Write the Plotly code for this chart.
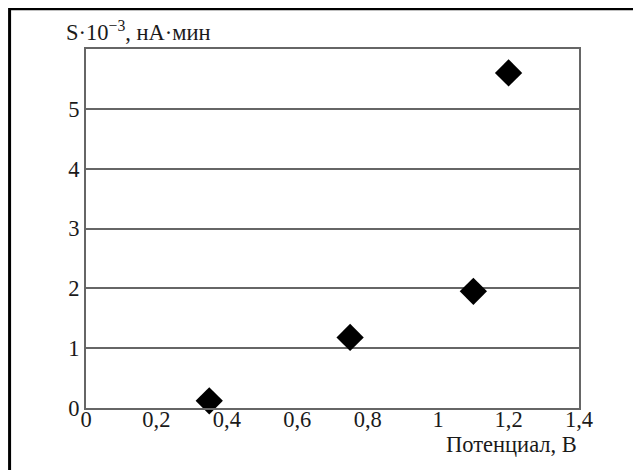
import plotly.graph_objects as go

potential = [0.35, 0.75, 1.1, 1.2]
area = [0.12, 1.18, 1.95, 5.6]
x_ticks = [0, 0.2, 0.4, 0.6, 0.8, 1.0, 1.2, 1.4]
y_ticks = [0, 1, 2, 3, 4, 5]

FONT = "'Liberation Serif', 'DejaVu Serif', serif"
FS = 22.5

fig = go.Figure()
fig.add_trace(go.Scatter(
    x=potential, y=area, mode="markers",
    marker=dict(symbol="diamond", size=21, color="black"),
    cliponaxis=False, showlegend=False,
))

fig.update_layout(
    width=633, height=462,
    margin=dict(l=78, r=62, t=41, b=62),
    paper_bgcolor="white", plot_bgcolor="white",
    separators=", ",
    font=dict(family=FONT, size=FS, color="#1a1a1a"),
    xaxis=dict(
        range=[0, 1.4], tickvals=x_ticks, showgrid=False, zeroline=False,
        showline=True, linecolor="#666", linewidth=2, mirror=True,
        ticks="", ticklabelstandoff=-10,
        tickfont=dict(family=FONT, size=FS, color="#1a1a1a"),
    ),
    yaxis=dict(
        range=[0, 6], tickvals=y_ticks, showgrid=True, gridcolor="#666",
        gridwidth=1.8, zeroline=False,
        showline=True, linecolor="#666", linewidth=2, mirror=True,
        ticks="", ticklabelstandoff=0,
        tickfont=dict(family=FONT, size=FS, color="#1a1a1a"),
    ),
    annotations=[
        dict(text="S·10<sup>−3</sup>, нА·мин", xref="paper", yref="paper",
             x=-0.045, y=1.006, xanchor="left", yanchor="bottom", showarrow=False,
             font=dict(family=FONT, size=FS, color="#1a1a1a")),
        dict(text="Потенциал, В", xref="paper", yref="paper",
             x=1.0, y=-0.102, xanchor="right", yanchor="middle", showarrow=False,
             font=dict(family=FONT, size=FS, color="#1a1a1a")),
    ],
    shapes=[
        dict(type="rect", xref="paper", yref="paper",
             x0=-0.155, y0=-0.3, x1=1.3, y1=1.112,
             line=dict(color="black", width=3), fillcolor="rgba(0,0,0,0)", layer="below"),
    ],
)

fig.write_html("out.html")
